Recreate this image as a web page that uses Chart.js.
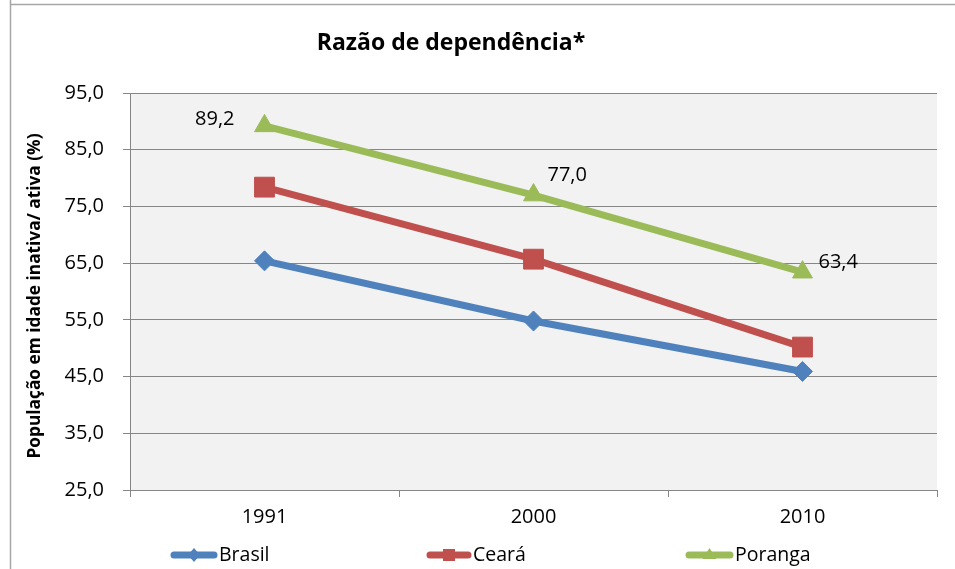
<!DOCTYPE html>
<html><head><meta charset="utf-8">
<script src="https://cdn.jsdelivr.net/npm/chart.js@4"></script>
<style>html,body{margin:0;padding:0;background:#fff}#wrap{width:955px;height:569px;position:relative}</style>
</head><body><div id="wrap"><canvas id="c" width="955" height="569"></canvas></div>
<script>
const categories = ['1991', '2000', '2010'];
const brasil = [65.4, 54.8, 45.9];
const ceara = [78.4, 65.7, 50.2];
const poranga = [89.2, 77.0, 63.4];
const seriesNames = ['Brasil', 'Ceará', 'Poranga'];
const porangaLabels = ['89,2', '77,0', '63,4'];
const chartTitle = 'Razão de dependência*';
const yTitle = 'População em idade inativa/ ativa (%)';

const FONT = "'Open Sans', 'Liberation Sans', sans-serif";
const colors = ['#4f81bd', '#c0504d', '#9bbb59'];
const styles = ['rectRot', 'rect', 'triangle'];
const radii = [10, 14, 11.5];

const bgPlugin = {
  id: 'bg',
  beforeDraw(chart) {
    const {ctx, chartArea: a} = chart;
    ctx.save();
    ctx.fillStyle = '#f2f2f2';
    ctx.fillRect(a.left, a.top, a.right - a.left, a.bottom - a.top);
    ctx.restore();
  },
  afterDraw(chart) {
    const ctx = chart.ctx;
    ctx.save();
    // outer frame lines
    ctx.strokeStyle = '#a6a6a6';
    ctx.lineWidth = 1.5;
    ctx.beginPath();
    ctx.moveTo(10.5, 0); ctx.lineTo(10.5, 569);
    ctx.moveTo(10, 4.5); ctx.lineTo(955, 4.5);
    ctx.stroke();
    // title
    ctx.fillStyle = '#000';
    ctx.font = 'bold 23px ' + FONT;
    ctx.textAlign = 'center'; ctx.textBaseline = 'middle';
    ctx.fillText(chartTitle, 451, 43);
    // y axis title
    ctx.save();
    ctx.translate(35, 296);
    ctx.rotate(-Math.PI / 2);
    ctx.font = 'bold 17.3px ' + FONT;
    ctx.fillText(yTitle, 0, 0);
    ctx.restore();
    // data labels for Poranga
    const meta = chart.getDatasetMeta(2);
    const offs = [[-30, -7, 'right'], [14, -20, 'left'], [16, -10, 'left']];
    ctx.font = '20px ' + FONT;
    meta.data.forEach((p, i) => {
      ctx.textAlign = offs[i][2];
      ctx.fillText(porangaLabels[i], p.x + offs[i][0], p.y + offs[i][1]);
    });
    // legend
    const lx = [171, 427, 686];
    const lw = [46, 44, 47];
    const ly = 555;
    ctx.font = '19.5px ' + FONT;
    ctx.textAlign = 'left';
    seriesNames.forEach((n, i) => {
      ctx.strokeStyle = colors[i];
      ctx.lineWidth = 7;
      ctx.lineCap = 'round';
      ctx.beginPath(); ctx.moveTo(lx[i] + 3, ly); ctx.lineTo(lx[i] + lw[i] - 3, ly); ctx.stroke();
      ctx.lineCap = 'butt';
      const cx = lx[i] + lw[i] / 2;
      ctx.fillStyle = colors[i];
      ctx.beginPath();
      if (i === 0) { ctx.moveTo(cx, ly - 7); ctx.lineTo(cx + 6, ly); ctx.lineTo(cx, ly + 7); ctx.lineTo(cx - 6, ly); }
      else if (i === 1) { ctx.rect(cx - 6, ly - 6, 12, 12); }
      else { ctx.moveTo(cx, ly - 7); ctx.lineTo(cx + 7, ly + 4); ctx.lineTo(cx - 7, ly + 4); }
      ctx.closePath(); ctx.fill();
      ctx.fillStyle = '#000';
      ctx.textBaseline = 'middle';
      ctx.fillText(n, lx[i] + lw[i] + 2, ly);
    });
    ctx.restore();
  }
};

const datasets = [brasil, ceara, poranga].map((d, i) => ({
  label: seriesNames[i],
  data: d,
  borderColor: colors[i],
  backgroundColor: colors[i],
  borderWidth: 7,
  pointStyle: styles[i],
  pointRadius: radii[i],
  pointHoverRadius: radii[i],
  pointBorderWidth: 1,
  tension: 0
}));

new Chart(document.getElementById('c'), {
  type: 'line',
  data: { labels: categories, datasets },
  options: {
    responsive: false,
    animation: false,
    events: [],
    layout: { padding: { top: 93, left: 0, right: 18, bottom: 0 } },
    plugins: { legend: { display: false }, title: { display: false }, tooltip: { enabled: false } },
    scales: {
      x: {
        offset: true,
        grid: { offset: true, drawOnChartArea: false, drawTicks: true, tickLength: 7, color: '#868686' },
        border: { display: true, color: '#868686', width: 1 },
        ticks: { color: '#000', font: { family: FONT, size: 20 }, padding: 8 },
        afterFit(s) { s.height = 79; }
      },
      y: {
        min: 25, max: 95,
        ticks: { stepSize: 10, color: '#000', font: { family: FONT, size: 20 }, padding: 19,
          callback: v => v.toFixed(1).replace('.', ',') },
        grid: { color: '#868686', tickLength: 7 },
        border: { display: true, color: '#868686', width: 1 },
        title: { display: false },
        afterFit(s) { s.width = 130; }
      }
    }
  },
  plugins: [bgPlugin]
});
</script></body></html>
